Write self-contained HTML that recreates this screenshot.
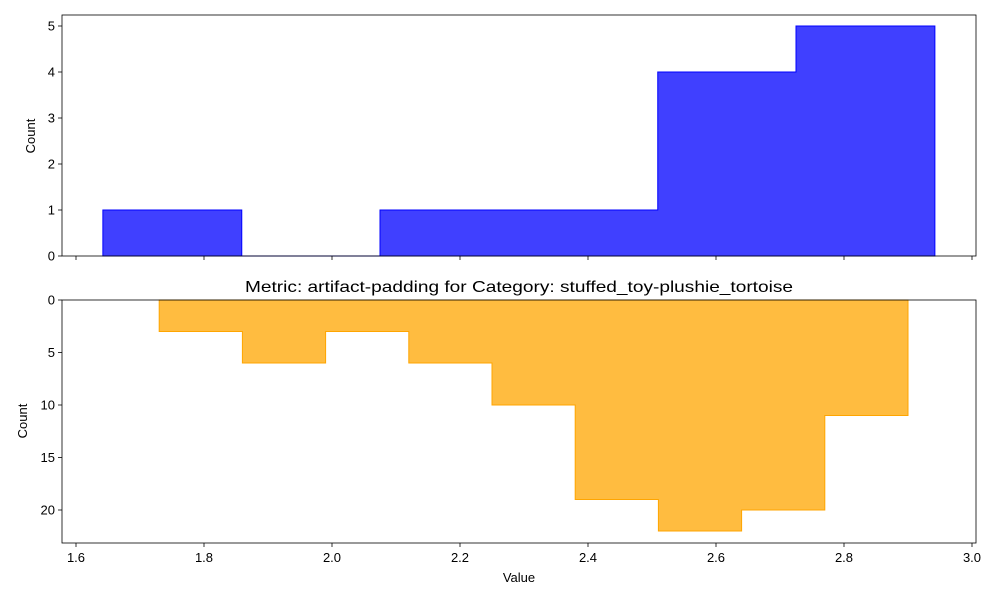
<!DOCTYPE html>
<html><head><meta charset="utf-8"><style>
body{margin:0;background:#fff;font-family:"Liberation Sans",sans-serif}
svg text{font-family:"Liberation Sans",sans-serif;fill:#000}
</style></head><body>
<svg width="1000" height="600" xmlns="http://www.w3.org/2000/svg" id="c"></svg>
<script>
const topEdges=[1.642,1.859,2.075,2.292,2.509,2.725,2.942];
const topCounts=[1,0,1,1,4,5];
const botEdges=[1.73,1.86,1.99,2.12,2.25,2.38,2.51,2.64,2.77,2.90];
const botCounts=[3,6,3,6,10,19,22,20,11];
const xTicks=[1.6,1.8,2.0,2.2,2.4,2.6,2.8,3.0];
const xTickLabels=["1.6","1.8","2.0","2.2","2.4","2.6","2.8","3.0"];
const topYTicks=[0,1,2,3,4,5];
const botYTicks=[0,5,10,15,20];

const svg=document.getElementById('c');const NS="http://www.w3.org/2000/svg";
function el(t,a,p){const e=document.createElementNS(NS,t);for(const k in a)e.setAttribute(k,a[k]);(p||svg).appendChild(e);return e;}
const L=62,R=976;
const x=v=>76+(v-1.6)*640;
const yT=v=>256-v*46;
const yB=v=>300+v*10.5;
function step(edges,counts,y,fill,stroke,name){
  let d=`M${x(edges[0])},${y(0)}`;
  counts.forEach((c,i)=>{d+=` L${x(edges[i])},${y(c)} L${x(edges[i+1])},${y(c)}`;});
  d+=` L${x(edges[edges.length-1])},${y(0)} Z`;
  const p=el('path',{d,fill,stroke,'stroke-width':1});
  
  
}
step(topEdges,topCounts,yT,'rgba(0,0,255,0.75)','#0000ff','top-histogram');
step(botEdges,botCounts,yB,'rgba(255,165,0,0.75)','#ffa500','bottom-histogram');
function frame(t,b,name){const r=el('rect',{x:L,y:t,width:R-L,height:b-t,fill:'none',stroke:'#000','stroke-width':0.8});}
frame(15,256,'top-axes-frame');frame(300,543,'bottom-axes-frame');
xTicks.forEach((v,i)=>{
  el('line',{x1:x(v),x2:x(v),y1:256,y2:260,stroke:'#000','stroke-width':0.8});
  el('line',{x1:x(v),x2:x(v),y1:543,y2:547,stroke:'#000','stroke-width':0.8});
  const t=el('text',{x:x(v),y:562,'font-size':13,'text-anchor':'middle'});t.textContent=xTickLabels[i];
  
  
});
topYTicks.forEach(v=>{
  el('line',{x1:L-4,x2:L,y1:yT(v),y2:yT(v),stroke:'#000','stroke-width':0.8});
  const t=el('text',{x:L-7,y:yT(v)+4.5,'font-size':13,'text-anchor':'end'});t.textContent=v;
  
  
});
botYTicks.forEach(v=>{
  el('line',{x1:L-4,x2:L,y1:yB(v),y2:yB(v),stroke:'#000','stroke-width':0.8});
  const t=el('text',{x:L-7,y:yB(v)+4.5,'font-size':13,'text-anchor':'end'});t.textContent=v;
  
  
});
let t;
t=el('text',{x:35,y:136,'font-size':13,'text-anchor':'middle',transform:'rotate(-90 35 136)'});t.textContent='Count';

t=el('text',{x:27,y:421,'font-size':13,'text-anchor':'middle',transform:'rotate(-90 27 421)'});t.textContent='Count';

t=el('text',{x:519,y:582,'font-size':13,'text-anchor':'middle'});t.textContent='Value';

t=el('text',{x:519,y:292,'font-size':16,'text-anchor':'middle',textLength:548,lengthAdjust:'spacingAndGlyphs'});t.textContent='Metric: artifact-padding for Category: stuffed_toy-plushie_tortoise';

</script>
</body></html>
